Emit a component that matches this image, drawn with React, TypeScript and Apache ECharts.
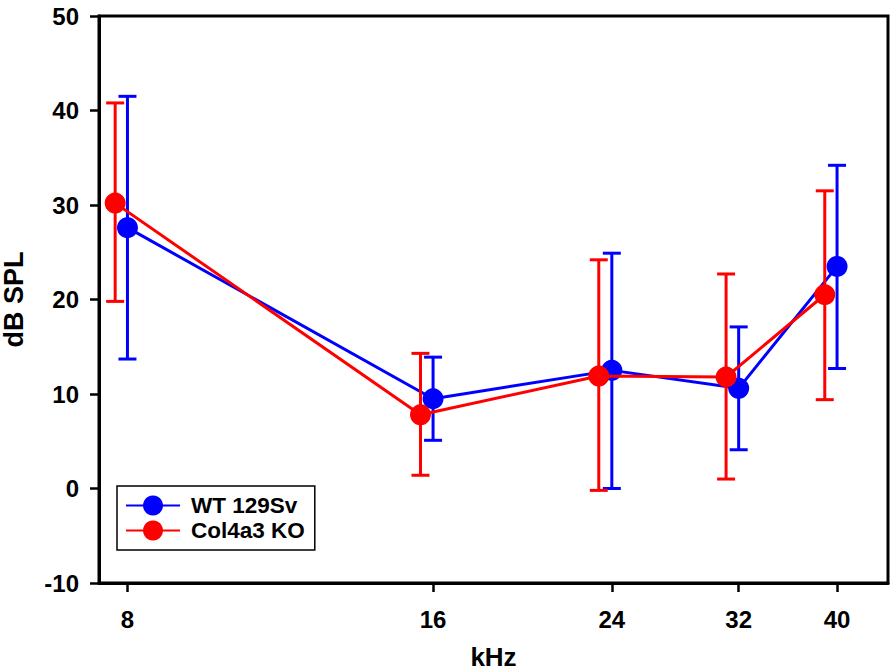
import React, { useEffect, useRef } from 'react';
import * as echarts from 'echarts';

const freqTicks = [8, 16, 24, 32, 40];
const wtX = [8, 16, 24, 32, 40];
const koX = [7.78, 15.55, 23.3, 31.1, 38.9];
const wtMean = [27.6, 9.5, 12.5, 10.6, 23.5];
const wtUpper = [41.5, 13.9, 24.9, 17.1, 34.2];
const wtLower = [13.7, 5.1, 0.0, 4.1, 12.7];
const koMean = [30.2, 7.8, 11.9, 11.8, 20.5];
const koUpper = [40.8, 14.3, 24.2, 22.7, 31.5];
const koLower = [19.8, 1.4, -0.2, 1.0, 9.4];

const BLUE = '#0000ff';
const RED = '#ff0000';
const FONT = '"Liberation Sans", Arial, sans-serif';

function errRender(color: string) {
  return (params: any, api: any) => {
    const x = api.value(0);
    const lo = api.value(1);
    const hi = api.value(2);
    const pLo = api.coord([x, lo]);
    const pHi = api.coord([x, hi]);
    const hw = 9;
    const style = { stroke: color, lineWidth: 3 };
    return {
      type: 'group',
      children: [
        { type: 'line', shape: { x1: pLo[0], y1: pLo[1], x2: pHi[0], y2: pHi[1] }, style },
        { type: 'line', shape: { x1: pHi[0] - hw, y1: pHi[1], x2: pHi[0] + hw, y2: pHi[1] }, style },
        { type: 'line', shape: { x1: pLo[0] - hw, y1: pLo[1], x2: pLo[0] + hw, y2: pLo[1] }, style },
      ],
    };
  };
}

export default function App() {
  const ref = useRef<HTMLDivElement>(null);
  useEffect(() => {
    if (!ref.current) return;
    const chart = echarts.init(ref.current, undefined, { renderer: 'svg' });
    const wtErr = wtX.map((x, i) => [x, wtLower[i], wtUpper[i]]);
    const koErr = koX.map((x, i) => [x, koLower[i], koUpper[i]]);
    const wtPts = wtX.map((x, i) => [x, wtMean[i]]);
    const koPts = koX.map((x, i) => [x, koMean[i]]);
    chart.setOption({
      animation: false,
      textStyle: { fontFamily: FONT },
      grid: {
        left: 99, top: 16, right: 7, bottom: 88,
        outerBoundsMode: 'none',
        containLabel: false,
        show: true, borderColor: '#000', borderWidth: 3, backgroundColor: 'transparent',
      },
      legend: {
        data: ['WT 129Sv', 'Col4a3 KO'],
        orient: 'vertical',
        left: 117, top: 486,
        padding: [8, 10, 8, 8],
        itemGap: 2,
        itemWidth: 54,
        itemHeight: 25,
        borderColor: '#000',
        borderWidth: 1.5,
        backgroundColor: '#fff',
        textStyle: { fontSize: 22.5, fontWeight: 'bold', color: '#000', fontFamily: FONT, padding: [0, 0, 0, 6] },
      },
      xAxis: {
        type: 'log',
        logBase: 2,
        min: 7.5,
        max: 44.9,
        name: 'kHz',
        nameLocation: 'middle',
        nameGap: 61,
        nameTextStyle: { fontSize: 26, fontWeight: 'bold', color: '#000', fontFamily: FONT },
        axisLine: { show: true, onZero: false, lineStyle: { color: '#000', width: 3 } },
        axisTick: { show: true, customValues: freqTicks, length: 9, lineStyle: { color: '#000', width: 2.5 } },
        axisLabel: {
          customValues: freqTicks,
          formatter: (v: number) => String(Math.round(v)),
          fontSize: 24, fontWeight: 'bold', color: '#000', margin: 24, fontFamily: FONT,
        },
        splitLine: { show: false },
      },
      yAxis: {
        type: 'value',
        min: -10,
        max: 50,
        interval: 10,
        name: 'dB SPL',
        nameLocation: 'middle',
        nameGap: 72,
        nameTextStyle: { fontSize: 27, fontWeight: 'bold', color: '#000', fontFamily: FONT },
        axisLine: { show: true, onZero: false, lineStyle: { color: '#000', width: 3 } },
        axisTick: { show: true, length: 9, lineStyle: { color: '#000', width: 2.5 } },
        axisLabel: { fontSize: 24, fontWeight: 'bold', color: '#000', margin: 20, fontFamily: FONT },
        splitLine: { show: false },
      },
      series: [
        {
          name: 'WT err', type: 'custom', renderItem: errRender(BLUE),
          encode: { x: 0, y: [1, 2] }, data: wtErr, z: 2,
        },
        {
          name: 'WT 129Sv', type: 'line', data: wtPts, symbol: 'circle', symbolSize: 21,
          itemStyle: { color: BLUE }, lineStyle: { color: BLUE, width: 3 }, z: 3,
        },
        {
          name: 'KO err', type: 'custom', renderItem: errRender(RED),
          encode: { x: 0, y: [1, 2] }, data: koErr, z: 4,
        },
        {
          name: 'Col4a3 KO', type: 'line', data: koPts, symbol: 'circle', symbolSize: 21,
          itemStyle: { color: RED }, lineStyle: { color: RED, width: 3 }, z: 5,
        },
      ],
    });
    return () => chart.dispose();
  }, []);
  return <div ref={ref} style={{ position: 'absolute', left: 0, top: 0, width: 895, height: 671 }} />;
}
